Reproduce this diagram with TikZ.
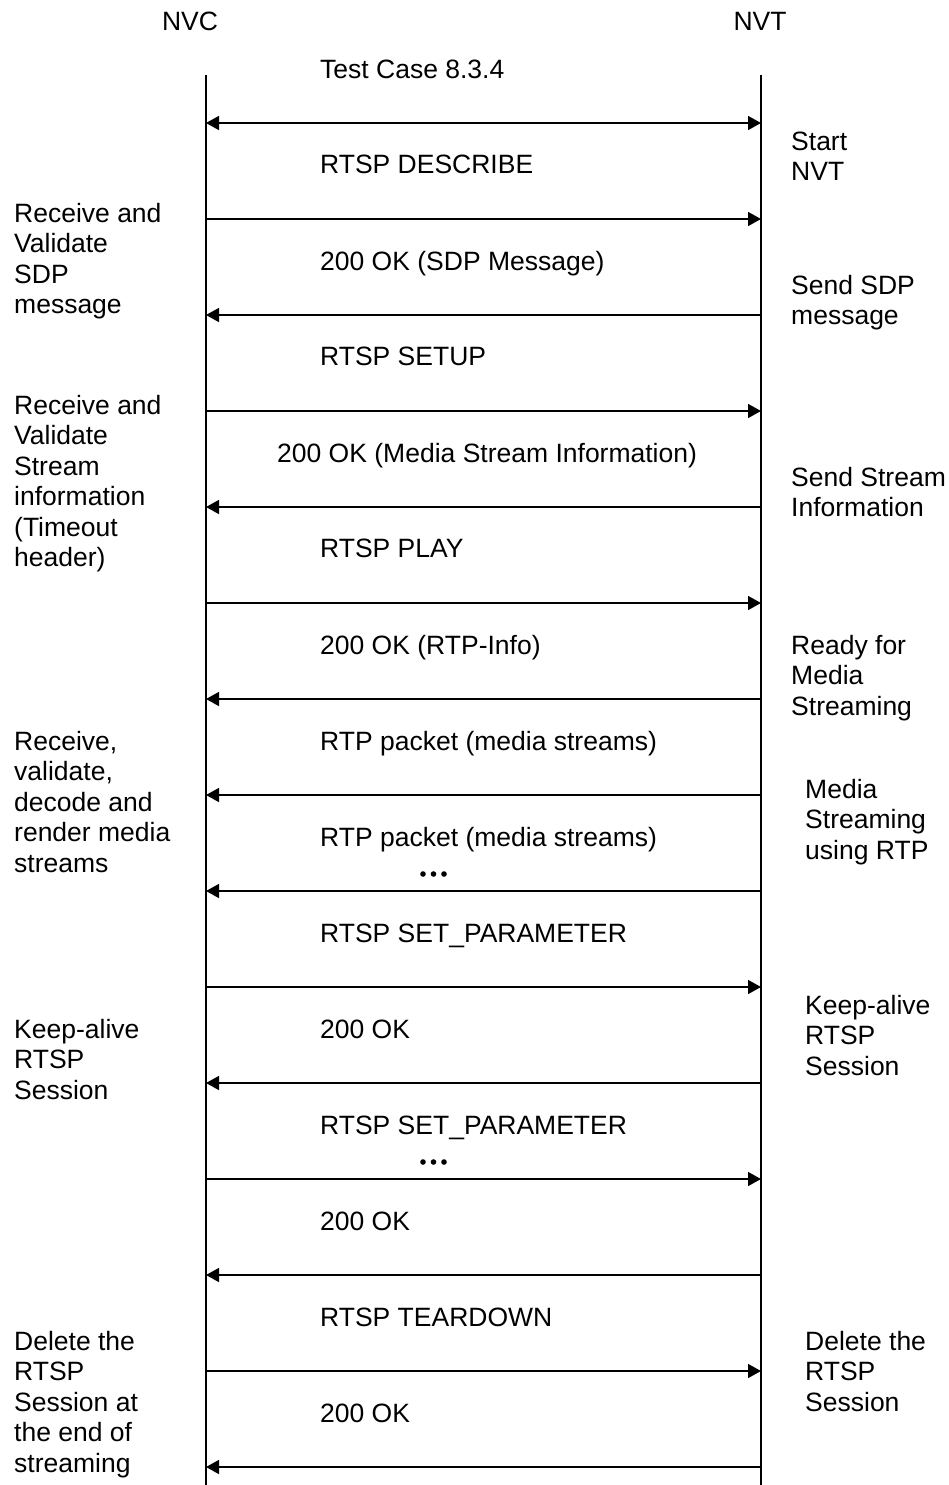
\documentclass[tikz,border=0pt]{standalone}
\usepackage{fontspec}
\setmainfont{Liberation Sans}
\usetikzlibrary{arrows.meta}
\begin{document}
\begin{tikzpicture}[x=1pt,y=-1pt,
 txt/.style={inner sep=0pt,font=\fontsize{26.5}{30.5}\selectfont},
 msg/.style={txt,anchor=base west},
 note/.style={txt,anchor=north west,align=left},
 life/.style={line width=1.5pt},
 arr/.style={line width=1.5pt,-{Triangle[length=13pt,width=14pt]}},
 darr/.style={line width=1.5pt,{Triangle[length=13pt,width=14pt]}-{Triangle[length=13pt,width=14pt]}},
 dot/.style={fill=black},
]
\useasboundingbox (0,0) rectangle (948,1485);
% headers
\node[txt,anchor=base] (nvc) at (190,31) {NVC};
\node[txt,anchor=base] (nvt) at (760,31) {NVT};
\node[msg] (tc) at (320,79) {Test Case 8.3.4};
% lifelines
\coordinate (Ltop) at (206,75);
\coordinate (Lbot) at (206,1485);
\coordinate (Rtop) at (761,75);
\coordinate (Rbot) at (761,1485);
\draw[life] (Ltop) -- (Lbot);
\draw[life] (Rtop) -- (Rbot);
% arrow rows
\foreach \k in {0,...,14}{
  \coordinate (a\k) at (206,123+96*\k);
  \coordinate (b\k) at (761,123+96*\k);
}
\draw[darr] (a0) -- (b0);
\foreach \k in {1,3,5,9,11,13}{ \draw[arr] (a\k) -- (b\k); }
\foreach \k in {2,4,6,7,8,10,12,14}{ \draw[arr] (b\k) -- (a\k); }
% message labels
\node[msg] (m1) at (320,173) {RTSP DESCRIBE};
\node[msg] (m2) at (320,270) {200 OK (SDP Message)};
\node[msg] (m3) at (320,365) {RTSP SETUP};
\node[msg] (m4) at (277,462) {200 OK (Media Stream Information)};
\node[msg] (m5) at (320,557) {RTSP PLAY};
\node[msg] (m6) at (320,654) {200 OK (RTP-Info)};
\node[msg] (m7) at (320,750) {RTP packet (media streams)};
\node[msg] (m8) at (320,846) {RTP packet (media streams)};
\node[msg] (m9) at (320,942) {RTSP SET\_PARAMETER};
\node[msg] (m10) at (320,1038) {200 OK};
\node[msg] (m11) at (320,1134) {RTSP SET\_PARAMETER};
\node[msg] (m12) at (320,1230) {200 OK};
\node[msg] (m13) at (320,1326) {RTSP TEARDOWN};
\node[msg] (m14) at (320,1422) {200 OK};
% dots
\foreach \yy in {874,1162}{
  \fill[dot] (423,\yy) circle (2.8);
  \fill[dot] (433.5,\yy) circle (2.8);
  \fill[dot] (444,\yy) circle (2.8);
}
% left notes
\node[note] (l1) at (14,200.6) {\strut Receive and\\Validate\\SDP\\message};
\node[note] (l2) at (14,392.6) {\strut Receive and\\Validate\\Stream\\information\\(Timeout\\header)};
\node[note] (l3) at (14,728.6) {\strut Receive,\\validate,\\decode and\\render media\\streams};
\node[note] (l4) at (14,1016.6) {\strut Keep-alive\\RTSP\\Session};
\node[note] (l5) at (14,1328.6) {\strut Delete the\\RTSP\\Session at\\the end of\\streaming};
% right notes
\node[note] (r1) at (791,128.6) {\strut Start\\NVT};
\node[note] (r2) at (791,272.6) {\strut Send SDP\\message};
\node[note] (r3) at (791,464.6) {\strut Send Stream\\Information};
\node[note] (r4) at (791,632.6) {\strut Ready for\\Media\\Streaming};
\node[note] (r5) at (805,776.6) {\strut Media\\Streaming\\using RTP};
\node[note] (r6) at (805,992.6) {\strut Keep-alive\\RTSP\\Session};
\node[note] (r7) at (805,1328.6) {\strut Delete the\\RTSP\\Session};
\end{tikzpicture}
\end{document}
